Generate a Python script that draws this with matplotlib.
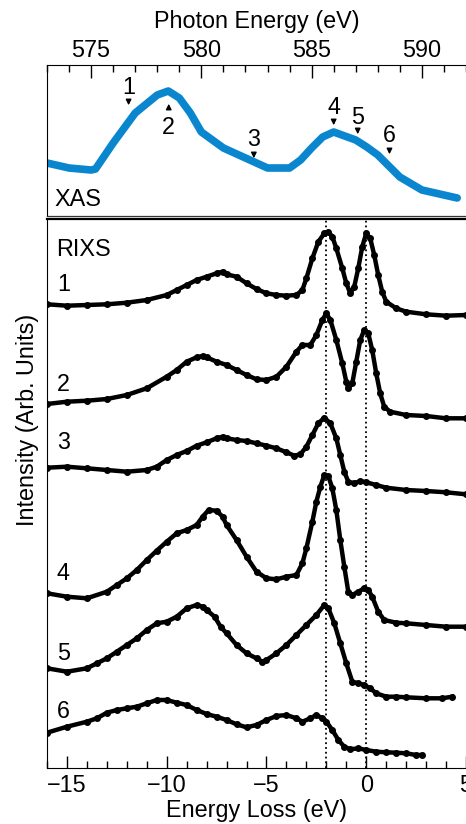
import numpy as np
import matplotlib
matplotlib.use("Agg")
from matplotlib import pyplot as plt
from matplotlib.ticker import MultipleLocator

plt.rcParams['font.family'] = ['Liberation Sans', 'DejaVu Sans']
plt.rcParams['font.size'] = 16.8

# XAS (photon energy, intensity)
xas_energy = [573.0, 574.0, 575.0, 575.2, 576.0, 577.0, 578.0, 578.5, 579.0, 579.5, 580.0,
              581.0, 582.0, 583.0, 584.0, 584.5, 585.0, 585.5, 586.0, 587.0, 587.5, 588.0,
              589.0, 590.0, 591.0, 591.6]
xas_y = [0.53, 0.48, 0.46, 0.47, 0.73, 1.03, 1.21, 1.25, 1.18, 1.03, 0.84,
         0.68, 0.58, 0.48, 0.48, 0.56, 0.68, 0.79, 0.84, 0.76, 0.69, 0.61,
         0.39, 0.26, 0.21, 0.18]

# excitation energies marked on XAS: (energy, label y, arrow tail y, arrow tip y)
mark_labels = ['1', '2', '3', '4', '5', '6']
mark_energy = [576.7, 578.52, 582.38, 586.0, 587.09, 588.53]
mark_text_y = [1.28, 0.89, 0.76, 1.09, 0.99, 0.81]
mark_tail_y = [1.19, 1.04, 0.65, 0.98, 0.88, 0.70]
mark_tip_y = [1.08, 1.15, 0.55, 0.88, 0.79, 0.59]

# RIXS spectra: energy loss and intensity (relative to each trace's offset)
loss_1 = [-16, -15, -14, -13, -12, -11, -10, -9.5, -9, -8.5, -8, -7.5, -7.2, -7, -6.5, -6,
          -5.5, -5, -4.5, -4, -3.5, -3.2, -3, -2.7, -2.4, -2.1, -1.9, -1.7, -1.5, -1.2, -1,
          -0.8, -0.6, -0.4, -0.2, 0, 0.2, 0.4, 0.6, 0.8, 1, 1.5, 2, 3, 4, 5]
int_1 = [0.032, 0.018, 0.025, 0.032, 0.048, 0.075, 0.125, 0.175, 0.225, 0.275, 0.308, 0.342,
         0.358, 0.332, 0.308, 0.242, 0.185, 0.142, 0.125, 0.118, 0.125, 0.175, 0.292, 0.492,
         0.658, 0.742, 0.758, 0.708, 0.592, 0.392, 0.242, 0.142, 0.208, 0.392, 0.608, 0.742,
         0.692, 0.525, 0.325, 0.158, 0.058, -0.008, -0.042, -0.068, -0.082, -0.075]

loss_2 = [-16, -15, -14, -13, -12, -11, -10, -9.5, -9, -8.5, -8.2, -8, -7.5, -7, -6.5, -6,
          -5.5, -5, -4.5, -4, -3.5, -3.2, -2.8, -2.5, -2.2, -2, -1.8, -1.5, -1.2, -1, -0.9,
          -0.7, -0.5, -0.3, -0.1, 0.1, 0.3, 0.5, 0.7, 0.9, 1.2, 2, 3, 4, 5]
int_2 = [0.035, 0.058, 0.068, 0.085, 0.125, 0.192, 0.308, 0.375, 0.458, 0.502, 0.515, 0.502,
         0.458, 0.425, 0.375, 0.325, 0.282, 0.275, 0.308, 0.408, 0.558, 0.625, 0.625, 0.725,
         0.875, 0.942, 0.875, 0.675, 0.442, 0.258, 0.192, 0.242, 0.458, 0.675, 0.775, 0.742,
         0.575, 0.342, 0.142, 0.008, -0.042, -0.075, -0.085, -0.108, -0.108]

loss_3 = [-16, -15, -14, -13, -12, -11, -10.5, -10, -9.5, -9, -8.5, -8, -7.5, -7.2, -7, -6.5,
          -6, -5.5, -5, -4.5, -4, -3.6, -3.3, -3, -2.7, -2.4, -2.1, -1.8, -1.5, -1.3, -1.1,
          -0.9, -0.6, -0.3, 0, 0.5, 1, 2, 3, 4, 5]
int_3 = [-0.002, 0.008, -0.008, -0.025, -0.042, -0.025, 0.008, 0.075, 0.125, 0.165, 0.218,
         0.252, 0.292, 0.308, 0.292, 0.275, 0.265, 0.242, 0.218, 0.192, 0.152, 0.118, 0.132,
         0.208, 0.325, 0.442, 0.498, 0.442, 0.292, 0.125, -0.042, -0.142, -0.158, -0.135,
         -0.148, -0.175, -0.202, -0.225, -0.235, -0.248, -0.268]

loss_4 = [-16, -15, -14, -13, -12.5, -12, -11.5, -11, -10.5, -10, -9.5, -9, -8.5, -8.2, -7.9,
          -7.5, -7.2, -7, -6.5, -6, -5.5, -5, -4.5, -4, -3.5, -3.2, -3, -2.7, -2.5, -2.3,
          -2.1, -1.9, -1.7, -1.5, -1.3, -1.1, -0.9, -0.7, -0.4, -0.1, 0.1, 0.3, 0.6, 0.9,
          1.5, 2, 3, 4, 5]
int_4 = [0.042, 0.008, -0.008, 0.058, 0.125, 0.192, 0.275, 0.375, 0.468, 0.558, 0.642, 0.675,
         0.725, 0.808, 0.875, 0.868, 0.808, 0.725, 0.575, 0.408, 0.258, 0.192, 0.182, 0.208,
         0.225, 0.342, 0.492, 0.758, 0.958, 1.108, 1.225, 1.215, 1.092, 0.875, 0.575, 0.308,
         0.058, 0.025, 0.058, 0.092, 0.075, 0.008, -0.142, -0.225, -0.252, -0.258, -0.275,
         -0.292, -0.292]

loss_5 = [-16, -15, -14, -13.5, -13, -12.5, -12, -11.5, -11, -10.5, -10, -9.5, -9, -8.5,
          -8.2, -8, -7.6, -7.3, -7, -6.5, -6, -5.5, -5.2, -5, -4.5, -4, -3.5, -3, -2.5, -2.1,
          -1.9, -1.6, -1.3, -1, -0.7, -0.4, -0.1, 0.2, 0.5, 1, 1.5, 2, 3, 3.8, 4.3]
int_5 = [-0.008, -0.042, -0.008, 0.042, 0.092, 0.158, 0.225, 0.292, 0.375, 0.442, 0.458,
         0.508, 0.592, 0.625, 0.608, 0.575, 0.508, 0.408, 0.342, 0.225, 0.142, 0.092, 0.058,
         0.075, 0.142, 0.225, 0.325, 0.425, 0.525, 0.625, 0.592, 0.442, 0.242, 0.042,
         -0.142, -0.158, -0.175, -0.208, -0.258, -0.292, -0.292, -0.298, -0.308, -0.308,
         -0.292]

loss_6 = [-16, -15, -14, -13.5, -13, -12.5, -12, -11.5, -11, -10.5, -10, -9.5, -9, -8.5, -8,
          -7.5, -7, -6.5, -6, -5.5, -5, -4.5, -4, -3.5, -3.2, -2.8, -2.5, -2.2, -2, -1.7,
          -1.4, -1.1, -0.8, -0.4, 0, 0.5, 1, 1.5, 2, 2.5, 2.8]
int_6 = [-0.002, 0.058, 0.108, 0.142, 0.198, 0.225, 0.242, 0.258, 0.292, 0.325, 0.325, 0.298,
         0.275, 0.225, 0.185, 0.158, 0.125, 0.082, 0.052, 0.075, 0.125, 0.165, 0.175, 0.142,
         0.108, 0.142, 0.175, 0.142, 0.108, 0.025, -0.075, -0.142, -0.168, -0.158, -0.175,
         -0.192, -0.198, -0.202, -0.208, -0.225, -0.225]

rixs_loss = [loss_1, loss_2, loss_3, loss_4, loss_5, loss_6]
rixs_int = [int_1, int_2, int_3, int_4, int_5, int_6]
rixs_labels = ['1', '2', '3', '4', '5', '6']
rixs_offsets = [4.6, 3.6, 3.0, 1.7, 1.0, 0.35]
rixs_label_y = [4.825, 3.825, 3.245, 1.945, 1.145, 0.555]
peak_lines = [-2, 0]

fig = plt.figure(figsize=(4.66, 8.24), dpi=100)

# top panel: XAS
ax_top = fig.add_axes([47 / 466, 608 / 824, 419 / 466, 151 / 824])
ax_top.plot(xas_energy, xas_y, color='#0a86cf', lw=5.5, solid_capstyle='round')
ax_top.set_xlim(573, 592)
ax_top.set_ylim(0, 1.51)
ax_top.xaxis.set_major_locator(MultipleLocator(5))
ax_top.xaxis.set_minor_locator(MultipleLocator(1))
ax_top.xaxis.tick_top()
ax_top.xaxis.set_label_position('top')
ax_top.tick_params(axis='x', which='both', direction='in', top=True, bottom=False, pad=2)
ax_top.tick_params(axis='x', which='major', length=9, width=1)
ax_top.tick_params(axis='x', which='minor', length=5, width=1)
ax_top.set_yticks([])
ax_top.spines['right'].set_visible(False)
ax_top.spines['bottom'].set_linewidth(0.9)
ax_top.spines['bottom'].set_color('#333333')
ax_top.set_xlabel('Photon Energy (eV)', labelpad=8)
ax_top.text(573.36, 0.16, 'XAS', ha='left', va='center')
for lab, e, ty, ay0, ay1 in zip(mark_labels, mark_energy, mark_text_y, mark_tail_y, mark_tip_y):
    ax_top.text(e, ty, lab, ha='center', va='center')
    ax_top.annotate('', xy=(e, ay1), xytext=(e, ay0),
                    arrowprops=dict(arrowstyle='-|>', color='k', lw=1, mutation_scale=8))

# bottom panel: RIXS
ax = fig.add_axes([47 / 466, 56.5 / 824, 419 / 466, 548 / 824])
for xs, ys, off in zip(rixs_loss, rixs_int, rixs_offsets):
    ax.plot(xs, np.array(ys) + off, color='k', lw=3.2, marker='o', ms=4)
for xv in peak_lines:
    ax.axvline(xv, color='k', ls=':', lw=1.3)
ax.set_xlim(-16, 5)
ax.set_ylim(0, 5.48)
ax.xaxis.set_major_locator(MultipleLocator(5))
ax.xaxis.set_minor_locator(MultipleLocator(1))
ax.tick_params(axis='x', which='both', direction='in', pad=5)
ax.tick_params(axis='x', which='major', length=9, width=1)
ax.tick_params(axis='x', which='minor', length=5, width=1)
ax.set_yticks([])
ax.spines['right'].set_visible(False)
ax.spines['top'].set_linewidth(1.6)
ax.set_xlabel('Energy Loss (eV)', labelpad=1)
ax.text(-15.55, 5.175, 'RIXS', ha='left', va='center')
for lab, ly in zip(rixs_labels, rixs_label_y):
    ax.text(-15.5, ly, lab, ha='left', va='center')

fig.text(28 / 466, 0.49, 'Intensity (Arb. Units)', rotation=90, ha='center', va='center')

fig.savefig('out.png', dpi=100)
